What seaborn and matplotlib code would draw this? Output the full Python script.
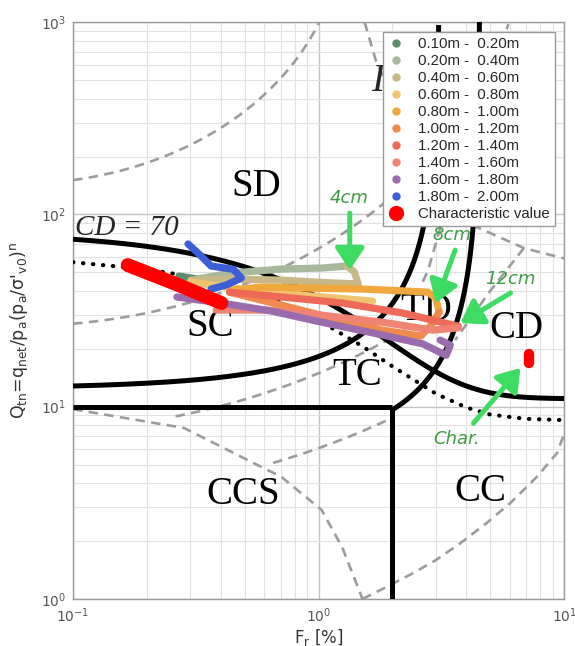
import numpy as np
import pandas as pd
import matplotlib
matplotlib.use("Agg")
import matplotlib.pyplot as plt
from matplotlib.lines import Line2D
from matplotlib.ticker import LogLocator, NullFormatter
import seaborn as sns

sns.set_theme(style="whitegrid")
plt.rcParams["font.family"] = ["DejaVu Sans"]

# ---------------------------------------------------------------------------
# CPT sounding: depth intervals and colours
# ---------------------------------------------------------------------------
intervals = ["0.10m -  0.20m", "0.20m -  0.40m", "0.40m -  0.60m", "0.60m -  0.80m",
             "0.80m -  1.00m", "1.00m -  1.20m", "1.20m -  1.40m", "1.40m -  1.60m",
             "1.60m -  1.80m", "1.80m -  2.00m"]
interval_colors = ["#5e8c6c", "#a8b89c", "#c8b888", "#f0c46e", "#f0a83e",
                   "#ef8a4c", "#ee6a58", "#ef8474", "#9a6cae", "#3c5fd6"]

# Friction ratio Fr [%] and normalised cone resistance Qtn for each interval
fr_010_020 = [0.27, 0.32]
qtn_010_020 = [47.8, 46.1]
fr_020_040 = [0.32, 0.44, 0.71, 1.03, 1.31]
qtn_020_040 = [46.1, 49.5, 52.0, 52.6, 53.9]
fr_040_060 = [1.31, 1.40, 1.45, 1.135, 0.708, 0.442, 0.302]
qtn_040_060 = [53.9, 50.1, 43.5, 44.0, 45.5, 46.1, 45.5]
fr_060_080 = [0.30, 0.485, 0.855, 1.66]
qtn_060_080 = [44.5, 40.9, 38.0, 35.4]
fr_080_100 = [0.442, 0.586, 0.855, 1.51, 2.31, 2.79, 3.0, 3.1]
qtn_080_100 = [40.4, 41.9, 41.4, 40.9, 39.9, 39.4, 36.7, 31.0]
fr_100_120 = [3.10, 2.87, 2.61, 1.82, 1.135, 0.708, 0.434]
qtn_100_120 = [31.0, 26.5, 23.3, 25.0, 28.9, 33.7, 39.4]
fr_120_140 = [0.434, 0.708, 1.25, 2.2, 3.71]
qtn_120_140 = [39.4, 37.2, 34.6, 30.7, 26.2]
fr_140_160 = [3.71, 2.92, 1.82, 1.03, 0.615, 0.383]
qtn_140_160 = [25.7, 25.0, 27.5, 29.9, 31.8, 31.8]
fr_160_180 = [0.265, 0.402, 0.644, 1.03, 1.66, 2.66, 3.31, 3.44, 3.13]
qtn_160_180 = [37.2, 34.6, 31.4, 27.5, 24.2, 21.2, 18.5, 20.9, 22.2]
fr_180_200 = [0.294, 0.326, 0.365, 0.45, 0.485, 0.421, 0.365]
qtn_180_200 = [70.2, 62.2, 53.9, 51.8, 46.7, 42.9, 40.9]

# Characteristic values: profile line and the single characteristic point
char_fr = [0.167, 0.262, 0.402]
char_qtn = [54.5, 43.5, 34.6]
char_point_fr = [7.18, 7.18]
char_point_qtn = [16.9, 18.8]

# ---------------------------------------------------------------------------
# Classification chart boundaries (Robertson 2016 / 1990 zones)
# ---------------------------------------------------------------------------
cd_value = 70
ib_values = [32, 22]
ic_values = [1.31, 2.05, 2.6, 2.95]
ic_fr_start = [0.1, 0.1, 0.26, 0.65]
ic_fr_end = [10.0, 10.0, 2.3, 2.0]

dotted_fr = [0.1, 0.2, 0.3, 0.5, 0.7, 1.0, 1.5, 2.0, 3.0, 4.0, 5.0, 7.0, 10.0]
dotted_qtn = [56.4, 51.8, 47.6, 40.6, 34.8, 28.2, 20.7, 16.2, 11.7, 9.9, 9.1, 8.64, 8.52]

zone1_fr = [0.1, 0.283, 0.708, 1.03, 1.25, 1.51]
zone1_qtn = [9.7, 7.75, 4.3, 2.9, 1.85, 1.0]
zone2_fr = [1.51, 1.88, 2.42, 3.0, 3.78, 4.83, 6.05, 7.74, 9.36, 10.0]
zone2_qtn = [1.0, 1.15, 1.36, 1.59, 1.95, 2.48, 3.16, 4.31, 5.74, 7.2]
zone8_fr = [1.54, 1.71, 2.05, 2.55, 3.0, 3.2, 3.13, 2.79, 2.6]
zone8_qtn = [1000, 634, 380, 220, 140, 100, 85, 51, 42]
zone9_fr = [3.2, 4.4, 6.86, 10.0]
zone9_qtn = [100, 86, 66.8, 59]
zone89_fr = [6.86, 5.0, 3.6]
zone89_qtn = [66.8, 40, 22.2]

# ---------------------------------------------------------------------------
fig = plt.figure(figsize=(5.75, 6.46), dpi=100)
ax = fig.add_axes([0.127, 0.0728, 0.854, 0.893])
ax.set_xscale("log")
ax.set_yscale("log")
ax.set_xlim(0.1, 10)
ax.set_ylim(1, 1000)

for axis in (ax.xaxis, ax.yaxis):
    axis.set_minor_locator(LogLocator(base=10, subs=np.arange(2, 10)))
    axis.set_minor_formatter(NullFormatter())
ax.grid(True, which="major", color="#c4c4c4", lw=1.0, zorder=0)
ax.grid(True, which="minor", color="#e2e2e2", lw=0.8, zorder=0)
ax.tick_params(which="both", length=0, labelsize=10, labelcolor="#555555", pad=5)
for sp in ax.spines.values():
    sp.set_color("#9a9a9a")
    sp.set_linewidth(1.0)

dash_kw = dict(color="#9c9c9c", lw=1.9, linestyle=(0, (3.6, 2.4)), zorder=2)
fr_grid = np.logspace(-1, 1, 600)

# Ic contours
for ic, f0, f1 in zip(ic_values, ic_fr_start, ic_fr_end):
    lf = np.log10(fr_grid)
    inside = ic ** 2 - (lf + 1.22) ** 2
    ok = (inside > 0) & (fr_grid >= f0) & (fr_grid <= f1)
    q = 10 ** (3.47 - np.sqrt(np.where(ok, inside, np.nan)))
    q = np.where(q <= 1000, q, np.nan)
    ax.plot(fr_grid, q, **dash_kw)
for fx, qy in [(zone1_fr, zone1_qtn), (zone2_fr, zone2_qtn), (zone8_fr, zone8_qtn),
               (zone9_fr, zone9_qtn), (zone89_fr, zone89_qtn)]:
    ax.plot(fx, qy, **dash_kw)

# Solid boundaries
black_kw = dict(color="black", lw=3.6, zorder=3, solid_capstyle="butt")
ax.plot(fr_grid, 11 + cd_value / (1 + 0.06 * fr_grid) ** 17, **black_kw)
for ib in ib_values:
    f_start = 0.1 if ib == 32 else 2.0
    fr_ib = np.logspace(np.log10(f_start), np.log10(100 / ib) - 1e-6, 800)
    q_ib = (70 * ib - 1000) / (100 - ib * fr_ib)
    keep = q_ib <= 1100
    ax.plot(fr_ib[keep], q_ib[keep], **black_kw)
ax.plot([0.1, 2.0], [10, 10], **black_kw)
ax.plot([2.0, 2.0], [1, 10], **black_kw)
ax.plot(dotted_fr, dotted_qtn, color="black", lw=3.0, linestyle=(0, (0.1, 2.3)),
        dash_capstyle="round", zorder=3)

# Zone labels
serif = ["Liberation Serif", "DejaVu Serif"]
zone_labels = ["SD", "SC", "TC", "TD", "CD", "CCS", "CC"]
zone_fr = [0.558, 0.362, 1.44, 2.74, 6.41, 0.495, 4.56]
zone_qtn = [140, 26.2, 14.6, 31.8, 25.6, 3.5, 3.6]
for lab, fx, qy in zip(zone_labels, zone_fr, zone_qtn):
    ax.text(fx, qy, lab, family=serif, fontsize=28, ha="center", va="center",
            color="black", zorder=3.5)
ax.text(0.102, 84.9, "CD = 70", family=serif, style="italic", fontsize=21,
        ha="left", va="center", zorder=3.5)
ax.text(1.64, 493, "I", family=serif, style="italic", fontsize=28,
        ha="left", va="center", zorder=3.5)

# Sounding trajectories
frs = [fr_010_020, fr_020_040, fr_040_060, fr_060_080, fr_080_100,
       fr_100_120, fr_120_140, fr_140_160, fr_160_180, fr_180_200]
qts = [qtn_010_020, qtn_020_040, qtn_040_060, qtn_060_080, qtn_080_100,
       qtn_100_120, qtn_120_140, qtn_140_160, qtn_160_180, qtn_180_200]
traj = pd.concat([pd.DataFrame({"Fr": f, "Qtn": q, "interval": lab})
                  for f, q, lab in zip(frs, qts, intervals)], ignore_index=True)
palette = dict(zip(intervals, interval_colors))
sns.lineplot(data=traj, x="Fr", y="Qtn", hue="interval", hue_order=intervals,
             palette=palette, sort=False, estimator=None, lw=5.2, legend=False,
             solid_capstyle="round", solid_joinstyle="round", zorder=4, ax=ax)

char_df = pd.DataFrame({"Fr": char_fr, "Qtn": char_qtn})
sns.lineplot(data=char_df, x="Fr", y="Qtn", sort=False, estimator=None, color="#ff0000",
             lw=10, solid_capstyle="round", zorder=4.5, ax=ax)
point_df = pd.DataFrame({"Fr": char_point_fr, "Qtn": char_point_qtn})
sns.lineplot(data=point_df, x="Fr", y="Qtn", sort=False, estimator=None, color="#ff0000",
             lw=7.5, solid_capstyle="round", zorder=4.5, ax=ax)

# Penetration-depth annotations
green_txt = "#3f9c46"
green_arrow = "#3fdc63"
notes = ["4cm", "8cm", "12cm", "Char."]
note_fr = [1.33, 3.50, 6.05, 3.64]
note_qtn = [121.6, 78, 46.1, 6.8]
tail_fr = [1.34, 3.60, 6.05, 4.27]
tail_qtn = [101.5, 65.2, 39.0, 8.2]
tip_fr = [1.34, 3.0, 3.78, 6.65]
tip_qtn = [51.3, 34.6, 27.2, 15.9]
for t, fx, qy in zip(notes, note_fr, note_qtn):
    ax.text(fx, qy, t, color=green_txt, style="italic", fontsize=13,
            ha="center", va="center", zorder=6)
for fa, qa, fb, qb in zip(tail_fr, tail_qtn, tip_fr, tip_qtn):
    ax.annotate("", xy=(fb, qb), xytext=(fa, qa), zorder=6,
                arrowprops=dict(arrowstyle="-|>,head_length=0.6,head_width=0.4",
                                color=green_arrow, lw=3.6, mutation_scale=22,
                                shrinkA=0, shrinkB=0))

# Legend
handles = [Line2D([], [], ls="none", marker="o", ms=5, color=c, label=l)
           for l, c in zip(intervals, interval_colors)]
handles.append(Line2D([], [], ls="none", marker="o", ms=10, color="#ff0000",
                      label="Characteristic value"))
leg = ax.legend(handles=handles, loc="upper right", bbox_to_anchor=(0.982, 0.983),
                borderaxespad=0, frameon=True, fancybox=False, framealpha=1,
                edgecolor="#9a9a9a", prop={"family": "Liberation Sans", "size": 10.8},
                labelspacing=0.2, handlelength=1.0, handletextpad=1.0, borderpad=0.35)
leg.set_zorder(7)
leg.get_frame().set_linewidth(1.0)

ax.set_xlabel(r"F$_{\rm r}$ [%]", fontsize=12, color="#333333", labelpad=2)
ax.set_ylabel(r"Q$_{\rm tn}$=q$_{\rm net}$/p$_{\rm a}$(p$_{\rm a}$/σ'$_{\rm v0}$)$^{\rm n}$",
              fontsize=12.5, color="#333333")
ax.yaxis.set_label_coords(-0.088, 0.465)

fig.savefig("out.png", dpi=100)
